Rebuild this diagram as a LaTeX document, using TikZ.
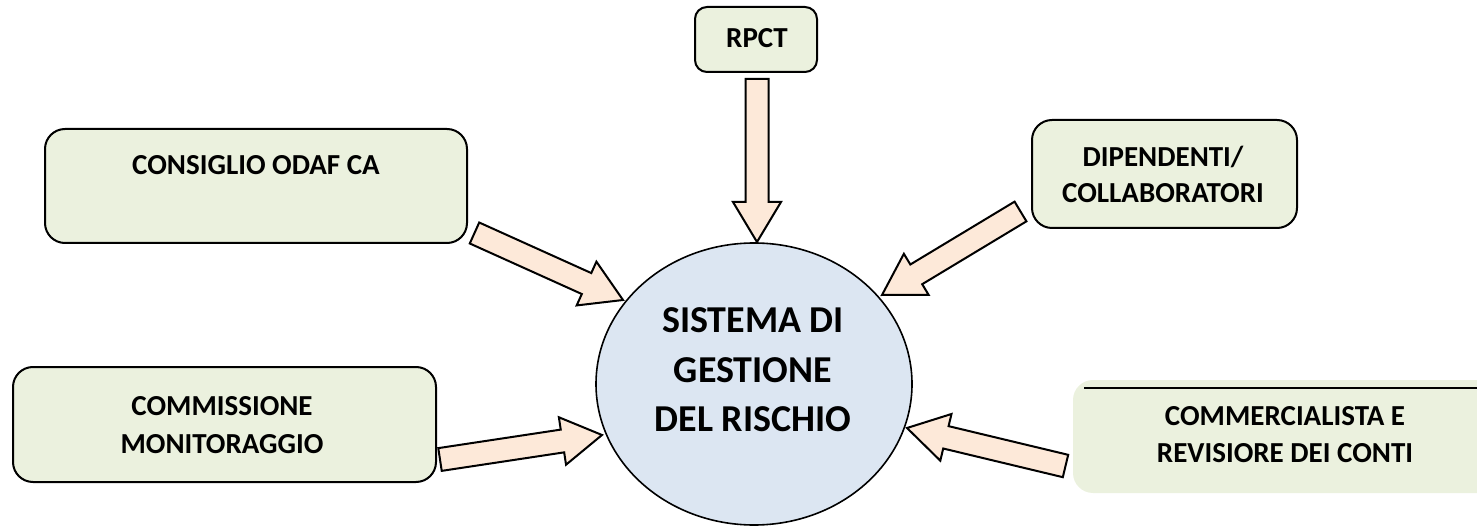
\documentclass[tikz,border=0pt]{standalone}
\usepackage{fontspec}
\setmainfont{Carlito}
\usetikzlibrary{calc,shapes.geometric}
\definecolor{boxfill}{HTML}{EBF1DE}
\definecolor{arrfill}{HTML}{FDE9D9}
\definecolor{circfill}{HTML}{DCE6F2}
\tikzset{
  box/.style={draw=black, line width=2pt, fill=boxfill, rounded corners=20pt, inner sep=0pt},
  lbl/.style={font=\fontsize{29}{34}\selectfont\bfseries, anchor=base, inner sep=0pt},
  mainlbl/.style={font=\fontsize{38}{45}\selectfont\bfseries, anchor=base, inner sep=0pt},
  blockarrow/.style={draw=black, line width=2pt, fill=arrfill, line join=miter},
}
\newcommand\blockarr[2]{%
  \coordinate (hb) at ($(#2)!40pt!(#1)$);
  \draw[blockarrow] ($(#1)!11.5pt!90:(#2)$) -- ($(hb)!11.5pt!-90:(#1)$) -- ($(hb)!24pt!-90:(#1)$) -- (#2) -- ($(hb)!24pt!90:(#1)$) -- ($(hb)!11.5pt!90:(#1)$) -- ($(#1)!11.5pt!-90:(#2)$) -- cycle;
}
\begin{document}
\begin{tikzpicture}[x=1pt,y=-1pt]
\useasboundingbox (0,0) rectangle (1477,526);
% boxes
\node[box, minimum width=122pt, minimum height=65pt, rounded corners=12pt] (rpct) at (756,39.5) {};
\node[box, minimum width=422pt, minimum height=114pt] (cons) at (256,186) {};
\node[box, minimum width=423pt, minimum height=115pt] (comm) at (224.5,424.5) {};
\node[box, minimum width=265pt, minimum height=108pt] (dip) at (1164.5,174) {};
\node[box, draw=none, minimum width=427pt, minimum height=113pt] (rev) at (1286.5,436.5) {};
\draw[line width=2.5pt] (1084,388) -- (1477,388);
% circle
\node[ellipse, draw=black, line width=1.6pt, fill=circfill, minimum width=316pt, minimum height=282pt, inner sep=0pt] (sys) at (754,384) {};
% arrows
\coordinate (t1) at (474.5,233); \coordinate (h1) at (623,300);
\coordinate (t2) at (440,459.5); \coordinate (h2) at (602,435);
\coordinate (t3) at (1020.5,211.5); \coordinate (h3) at (882,295);
\coordinate (t4) at (1065.5,466); \coordinate (h4) at (907,428);
\coordinate (t5) at (757,79); \coordinate (h5) at (757,242);
\blockarr{t1}{h1}
\blockarr{t2}{h2}
\blockarr{t3}{h3}
\blockarr{t4}{h4}
\blockarr{t5}{h5}
% labels
\node[lbl] (lrpct) at (757,48) {RPCT};
\node[lbl] (lcons) at (256,175) {CONSIGLIO ODAF CA};
\node[lbl] (lcomm1) at (222,415) {COMMISSIONE};
\node[lbl] (lcomm2) at (222,453) {MONITORAGGIO};
\node[lbl] (ldip1) at (1163,167) {DIPENDENTI/};
\node[lbl] (ldip2) at (1163,203) {COLLABORATORI};
\node[lbl] (lrev1) at (1285,425) {COMMERCIALISTA E};
\node[lbl] (lrev2) at (1285,462) {REVISIORE DEI CONTI};
\node[mainlbl] (ls1) at (753,333) {SISTEMA DI};
\node[mainlbl] (ls2) at (753,382) {GESTIONE};
\node[mainlbl] (ls3) at (753,431) {DEL RISCHIO};
\end{tikzpicture}
\end{document}
